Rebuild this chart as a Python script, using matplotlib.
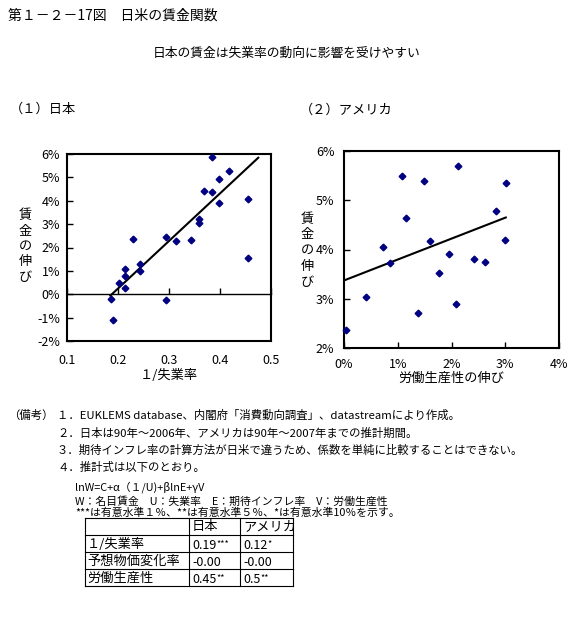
import matplotlib
matplotlib.use('Agg')
import matplotlib.pyplot as plt
from matplotlib.ticker import PercentFormatter, MultipleLocator

plt.rcParams['font.family'] = ['Noto Sans CJK JP', 'DejaVu Sans']
plt.rcParams['axes.unicode_minus'] = False

# (1) Japan: 1/unemployment rate vs wage growth (%)
jp_x = [0.186, 0.190, 0.201, 0.213, 0.213, 0.213, 0.229, 0.244, 0.244, 0.295, 0.295, 0.313,
        0.344, 0.359, 0.359, 0.369, 0.384, 0.384, 0.399, 0.399, 0.417, 0.454, 0.454]
jp_y = [-0.20, -1.11, 0.47, 0.26, 0.77, 1.07, 2.36, 1.31, 1.01, 2.44, -0.23, 2.26,
        2.31, 3.21, 3.03, 4.40, 4.36, 5.88, 4.93, 3.89, 5.27, 4.06, 1.54]
jp_trend_x = [0.185, 0.475]
jp_trend_y = [-0.06, 5.84]

# (2) USA: labour productivity growth (%) vs wage growth (%)
us_x = [0.03, 0.41, 0.72, 0.85, 1.08, 1.15, 1.37, 1.49, 1.60, 1.76, 1.95, 2.08,
        2.12, 2.41, 2.62, 2.82, 2.99, 3.01]
us_y = [2.36, 3.04, 4.06, 3.72, 5.49, 4.64, 2.72, 5.39, 4.17, 3.52, 3.90, 2.90,
        5.69, 3.80, 3.74, 4.78, 4.20, 5.35]
us_trend_x = [0.02, 3.01]
us_trend_y = [3.38, 4.65]

# coefficient table
row_labels = ['１/失業率', '予想物価変化率', '労働生産性']
col_labels = ['日本', 'アメリカ']
jp_coef = ['0.19', '-0.00', '0.45']
jp_sig = ['***', '', '**']
us_coef = ['0.12', '-0.00', '0.5']
us_sig = ['*', '', '**']

notes = [
    '１．EUKLEMS database、内閣府「消費動向調査」、datastreamにより作成。',
    '２．日本は90年～2006年、アメリカは90年～2007年までの推計期間。',
    '３．期待インフレ率の計算方法が日米で違うため、係数を単純に比較することはできない。',
    '４．推計式は以下のとおり。',
]
formula_lines = [
    'lnW=C+α（１/U)+βlnE+γV',
    'W：名目賃金　U：失業率　E：期待インフレ率　V：労働生産性',
    '***は有意水準１％、**は有意水準５％、*は有意水準10％を示す。',
]

W, H = 580, 634
NAVY = '#000080'

fig = plt.figure(figsize=(W / 100, H / 100), dpi=100)

# overlay in pixel coordinates for titles, notes and the table
ov = fig.add_axes([0, 0, 1, 1])
ov.set_xlim(0, W)
ov.set_ylim(H, 0)
ov.axis('off')

ov.text(8, 16, '第１－２－17図　日米の賃金関数', fontsize=10, va='center')
ov.text(287, 53, '日本の賃金は失業率の動向に影響を受けやすい', fontsize=9.2,
        va='center', ha='center')
ov.text(10, 109, '（１）日本', fontsize=9.5, va='center')
ov.text(300, 110, '（２）アメリカ', fontsize=9.5, va='center')


def stacked_label(x, y0, step, s):
    for i, ch in enumerate(s):
        ov.text(x, y0 + i * step, ch, fontsize=9.5, ha='center', va='center')


stacked_label(25, 216, 15.3, '賃金の伸び')
stacked_label(307, 219, 15.8, '賃金の伸び')


def style_axes(ax):
    for sp in ax.spines.values():
        sp.set_linewidth(1.5)
    ax.tick_params(direction='in', width=1, length=4, labelsize=9)


# ---- Japan ----
ax1 = fig.add_axes([67 / W, 1 - 341 / H, 204 / W, 187 / H])
style_axes(ax1)
ax1.set_xlim(0.1, 0.5)
ax1.set_ylim(-2, 6)
ax1.xaxis.set_major_locator(MultipleLocator(0.1))
ax1.xaxis.set_major_formatter(plt.FormatStrFormatter('%.1f'))
ax1.yaxis.set_major_locator(MultipleLocator(1))
ax1.yaxis.set_major_formatter(PercentFormatter(decimals=0))
ax1.tick_params(axis='x', length=0, pad=9)
ax1.tick_params(axis='y', pad=5)
# horizontal axis crosses at 0%
sec = ax1.secondary_xaxis(0.25)
sec.xaxis.set_major_locator(MultipleLocator(0.1))
sec.tick_params(direction='in', length=4, width=1, labelbottom=False)
sec.spines['bottom'].set_linewidth(1)
ax1.plot(jp_trend_x, jp_trend_y, color='black', lw=1.5, zorder=3)
ax1.plot(jp_x, jp_y, 'D', color=NAVY, ms=3.4, zorder=4, clip_on=False)
ax1.set_xlabel('１/失業率', fontsize=9.5, labelpad=2)

# ---- USA ----
ax2 = fig.add_axes([344 / W, 1 - 348 / H, 215 / W, 197 / H])
style_axes(ax2)
ax2.set_xlim(0, 4)
ax2.set_ylim(2, 6)
ax2.xaxis.set_major_locator(MultipleLocator(1))
ax2.yaxis.set_major_locator(MultipleLocator(1))
ax2.xaxis.set_major_formatter(PercentFormatter(decimals=0))
ax2.yaxis.set_major_formatter(PercentFormatter(decimals=0))
ax2.tick_params(axis='x', pad=7)
ax2.tick_params(axis='y', pad=7)
ax2.plot(us_trend_x, us_trend_y, color='black', lw=1.5, zorder=3)
ax2.plot(us_x, us_y, 'D', color=NAVY, ms=3.4, zorder=4, clip_on=False)
ax2.set_xlabel('労働生産性の伸び', fontsize=9.5, labelpad=1)

# ---- notes ----
note_y = [415, 433, 450, 467]
ov.text(8, note_y[0], '（備考）', fontsize=8.2, va='center')
for y, s in zip(note_y, notes):
    ov.text(57, y, s, fontsize=8.2, va='center')
for y, s in zip([487, 501, 513], formula_lines):
    ov.text(75, y, s, fontsize=7.8, va='center')

# ---- table ----
col_x = [85, 189, 240, 293]
row_y = [518, 535, 552, 569, 586]
for y in row_y:
    ov.plot([col_x[0], col_x[-1]], [y, y], color='black', lw=0.8)
for x in col_x:
    ov.plot([x, x], [row_y[0], row_y[-1]], color='black', lw=0.8)

for j, s in enumerate(col_labels):
    ov.text(col_x[j + 1] + 3, (row_y[0] + row_y[1]) / 2, s, fontsize=9.5, va='center')

for i in range(len(row_labels)):
    yc = (row_y[i + 1] + row_y[i + 2]) / 2 + 1
    ov.text(col_x[0] + 2, yc, row_labels[i], fontsize=9.5, va='center')
    for j, (vals, sigs) in enumerate([(jp_coef, jp_sig), (us_coef, us_sig)]):
        t = ov.text(col_x[j + 1] + 3, yc + 1, vals[i], fontsize=9, va='center')
        if sigs[i]:
            ov.annotate(sigs[i], xy=(1.0, 1.0), xycoords=t, fontsize=6.5,
                        ha='left', va='top')

fig.savefig('out.png', dpi=100)
